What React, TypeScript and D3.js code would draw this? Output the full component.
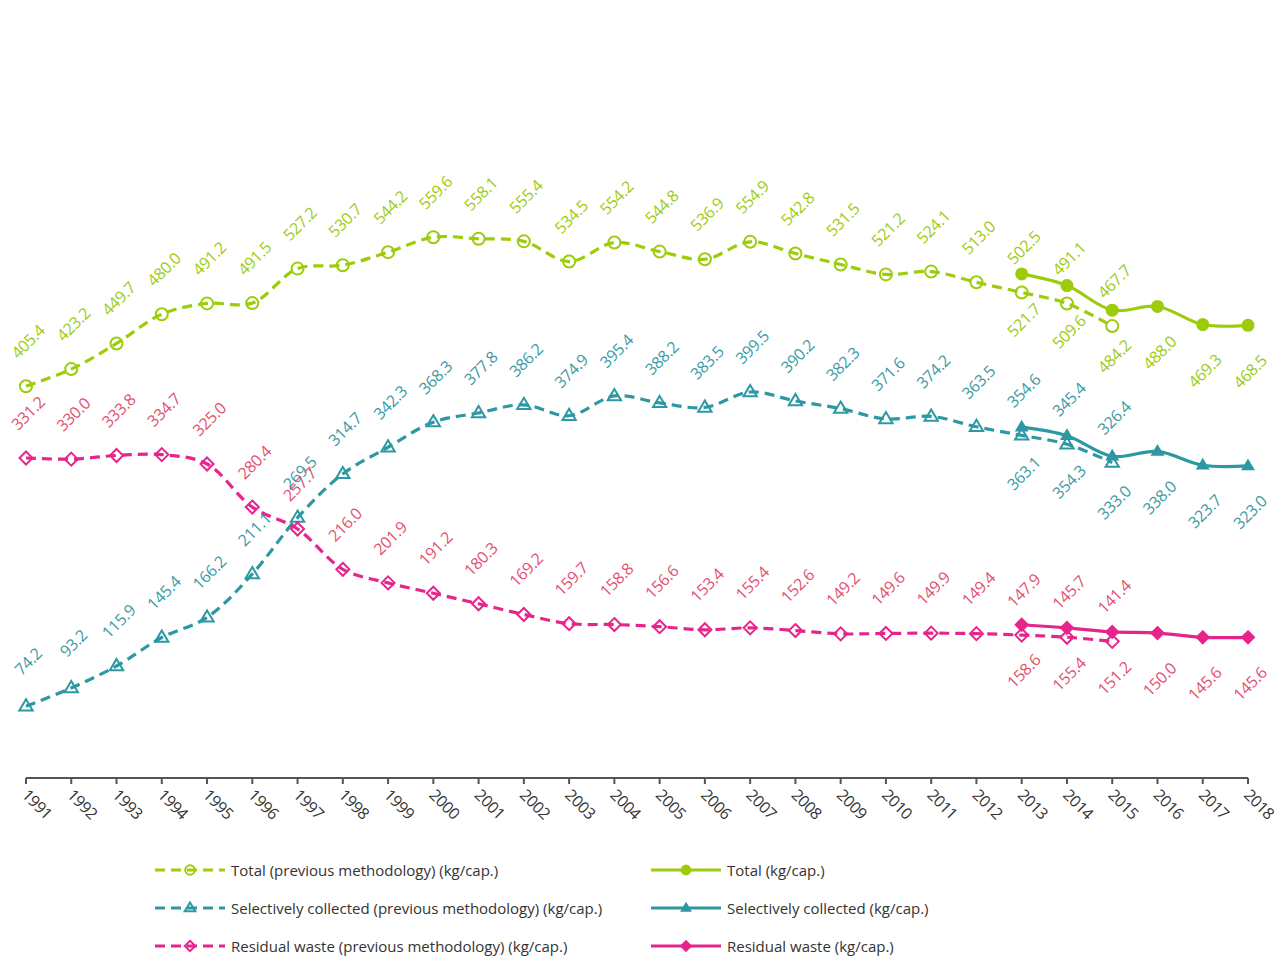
import React from "react";
import * as d3 from "d3";

const years = d3.range(1991, 2019);
const oldYears = d3.range(1991, 2016);
const newYears = d3.range(2013, 2019);

const totalOld = [405.4, 423.2, 449.7, 480.0, 491.2, 491.5, 527.2, 530.7, 544.2, 559.6, 558.1, 555.4, 534.5, 554.2, 544.8, 536.9, 554.9, 542.8, 531.5, 521.2, 524.1, 513.0, 502.5, 491.1, 467.7];
const totalNew = [521.7, 509.6, 484.2, 488.0, 469.3, 468.5];
const selOld = [74.2, 93.2, 115.9, 145.4, 166.2, 211.1, 269.5, 314.7, 342.3, 368.3, 377.8, 386.2, 374.9, 395.4, 388.2, 383.5, 399.5, 390.2, 382.3, 371.6, 374.2, 363.5, 354.6, 345.4, 326.4];
const selNew = [363.1, 354.3, 333.0, 338.0, 323.7, 323.0];
const resOld = [331.2, 330.0, 333.8, 334.7, 325.0, 280.4, 257.7, 216.0, 201.9, 191.2, 180.3, 169.2, 159.7, 158.8, 156.6, 153.4, 155.4, 152.6, 149.2, 149.6, 149.9, 149.4, 147.9, 145.7, 141.4];
const resNew = [158.6, 155.4, 151.2, 150.0, 145.6, 145.6];

const legendLabels = [
  "Total (previous methodology) (kg/cap.)",
  "Total (kg/cap.)",
  "Selectively collected (previous methodology) (kg/cap.)",
  "Selectively collected (kg/cap.)",
  "Residual waste (previous methodology) (kg/cap.)",
  "Residual waste (kg/cap.)",
];

const GREEN = "#9ccc0a";
const GREEN_T = "#9ccc10";
const TEAL = "#2c98a2";
const TEAL_T = "#3a9aa6";
const MAG = "#e6258c";
const MAG_T = "#e2506e";
const FONT = "'Open Sans', sans-serif";

type Series = {
  ys: number[];
  vals: number[];
  color: string;
  tcolor: string;
  marker: "circle" | "tri" | "diamond";
  dashed: boolean;
  labelPos: "above" | "below";
};

const series: Series[] = [
  { ys: oldYears, vals: totalOld, color: GREEN, tcolor: GREEN_T, marker: "circle", dashed: true, labelPos: "above" },
  { ys: newYears, vals: totalNew, color: GREEN, tcolor: GREEN_T, marker: "circle", dashed: false, labelPos: "below" },
  { ys: oldYears, vals: selOld, color: TEAL, tcolor: TEAL_T, marker: "tri", dashed: true, labelPos: "above" },
  { ys: newYears, vals: selNew, color: TEAL, tcolor: TEAL_T, marker: "tri", dashed: false, labelPos: "below" },
  { ys: oldYears, vals: resOld, color: MAG, tcolor: MAG_T, marker: "diamond", dashed: true, labelPos: "above" },
  { ys: newYears, vals: resNew, color: MAG, tcolor: MAG_T, marker: "diamond", dashed: false, labelPos: "below" },
];

function Marker({ kind, x, y, color, filled, small }: { kind: string; x: number; y: number; color: string; filled: boolean; small?: boolean }) {
  const s = small ? 0.8 : 1;
  if (kind === "circle") {
    return <circle cx={x} cy={y} r={filled ? 5.5 * s : 6 * s} fill={filled ? color : "none"} stroke={color} strokeWidth={2} />;
  }
  if (kind === "tri") {
    const r = filled ? 5.5 * s : 7 * s;
    const p = `M${x},${y - r}L${x + r * 0.95},${y + r * 0.6}L${x - r * 0.95},${y + r * 0.6}Z`;
    return <path d={p} fill={filled ? color : "none"} stroke={color} strokeWidth={2} strokeLinejoin="miter" />;
  }
  const r = filled ? 6 * s : 6.5 * s;
  const p = `M${x},${y - r}L${x + r},${y}L${x},${y + r}L${x - r},${y}Z`;
  return <path d={p} fill={filled ? color : "none"} stroke={color} strokeWidth={2} />;
}

export default function App() {
  const W = 1282, H = 962;
  const x = d3.scaleLinear().domain([1991, 2018]).range([26, 1248]);
  const y = d3.scaleLinear().domain([0, 800]).range([778, 5]);
  const line = d3
    .line<[number, number]>()
    .x((d) => x(d[0]))
    .y((d) => y(d[1]))
    .curve(d3.curveCatmullRom.alpha(0.5));

  const legendRows = [870, 908, 946];
  const legendCols = [155, 651];

  return (
    <svg width={W} height={H} style={{ position: "absolute", left: 0, top: 0, background: "#fff" }} fontFamily={FONT}>
      {/* axis */}
      <line x1={x(1991)} x2={x(2018)} y1={y(0)} y2={y(0)} stroke="#555" strokeWidth={2} />
      {years.map((yr) => (
        <g key={yr}>
          <line x1={x(yr)} x2={x(yr)} y1={y(0)} y2={y(0) + 6} stroke="#555" strokeWidth={2} />
          <text
            transform={`translate(${x(yr) - 5},${y(0) + 18}) rotate(45)`}
            fontSize={16}
            fill="#333"
            textAnchor="start"
            letterSpacing={-0.5}
          >
            {yr}
          </text>
        </g>
      ))}

      {/* lines */}
      {series.map((s, i) => (
        <path
          key={"l" + i}
          d={line(s.ys.map((yr, j) => [yr, s.vals[j]] as [number, number])) || ""}
          fill="none"
          stroke={s.color}
          strokeWidth={3.2}
          strokeDasharray={s.dashed ? "10,6" : undefined}
        />
      ))}

      {/* markers */}
      {series.map((s, i) => (
        <g key={"m" + i}>
          {s.ys.map((yr, j) => (
            <Marker key={yr} kind={s.marker} x={x(yr)} y={y(s.vals[j])} color={s.color} filled={!s.dashed} />
          ))}
        </g>
      ))}

      {/* labels */}
      {series.map((s, i) => (
        <g key={"t" + i}>
          {s.ys.map((yr, j) => {
            const cx = x(yr) + 2;
            const cy = y(s.vals[j]) + (s.labelPos === "above" ? -45 : 46);
            return (
              <text
                key={yr}
                transform={`translate(${cx},${cy}) rotate(-45)`}
                textAnchor="middle"
                dominantBaseline="central"
                fontSize={16}
                letterSpacing={-0.3}
                fill={s.tcolor}
              >
                {s.vals[j].toFixed(1)}
              </text>
            );
          })}
        </g>
      ))}

      {/* legend */}
      {[0, 1, 2].map((r) =>
        [0, 1].map((c) => {
          const s = series[r * 2 + c];
          const lx = legendCols[c];
          const ly = legendRows[r];
          return (
            <g key={`lg${r}${c}`}>
              <line
                x1={lx}
                x2={lx + 70}
                y1={ly}
                y2={ly}
                stroke={s.color}
                strokeWidth={3.2}
                strokeDasharray={s.dashed ? "10,6" : undefined}
              />
              <Marker kind={s.marker} x={lx + 35} y={ly} color={s.color} filled={!s.dashed} small />
              <text x={lx + 76} y={ly} dominantBaseline="central" fontSize={15} fill="#333">
                {legendLabels[r * 2 + c]}
              </text>
            </g>
          );
        })
      )}
    </svg>
  );
}
